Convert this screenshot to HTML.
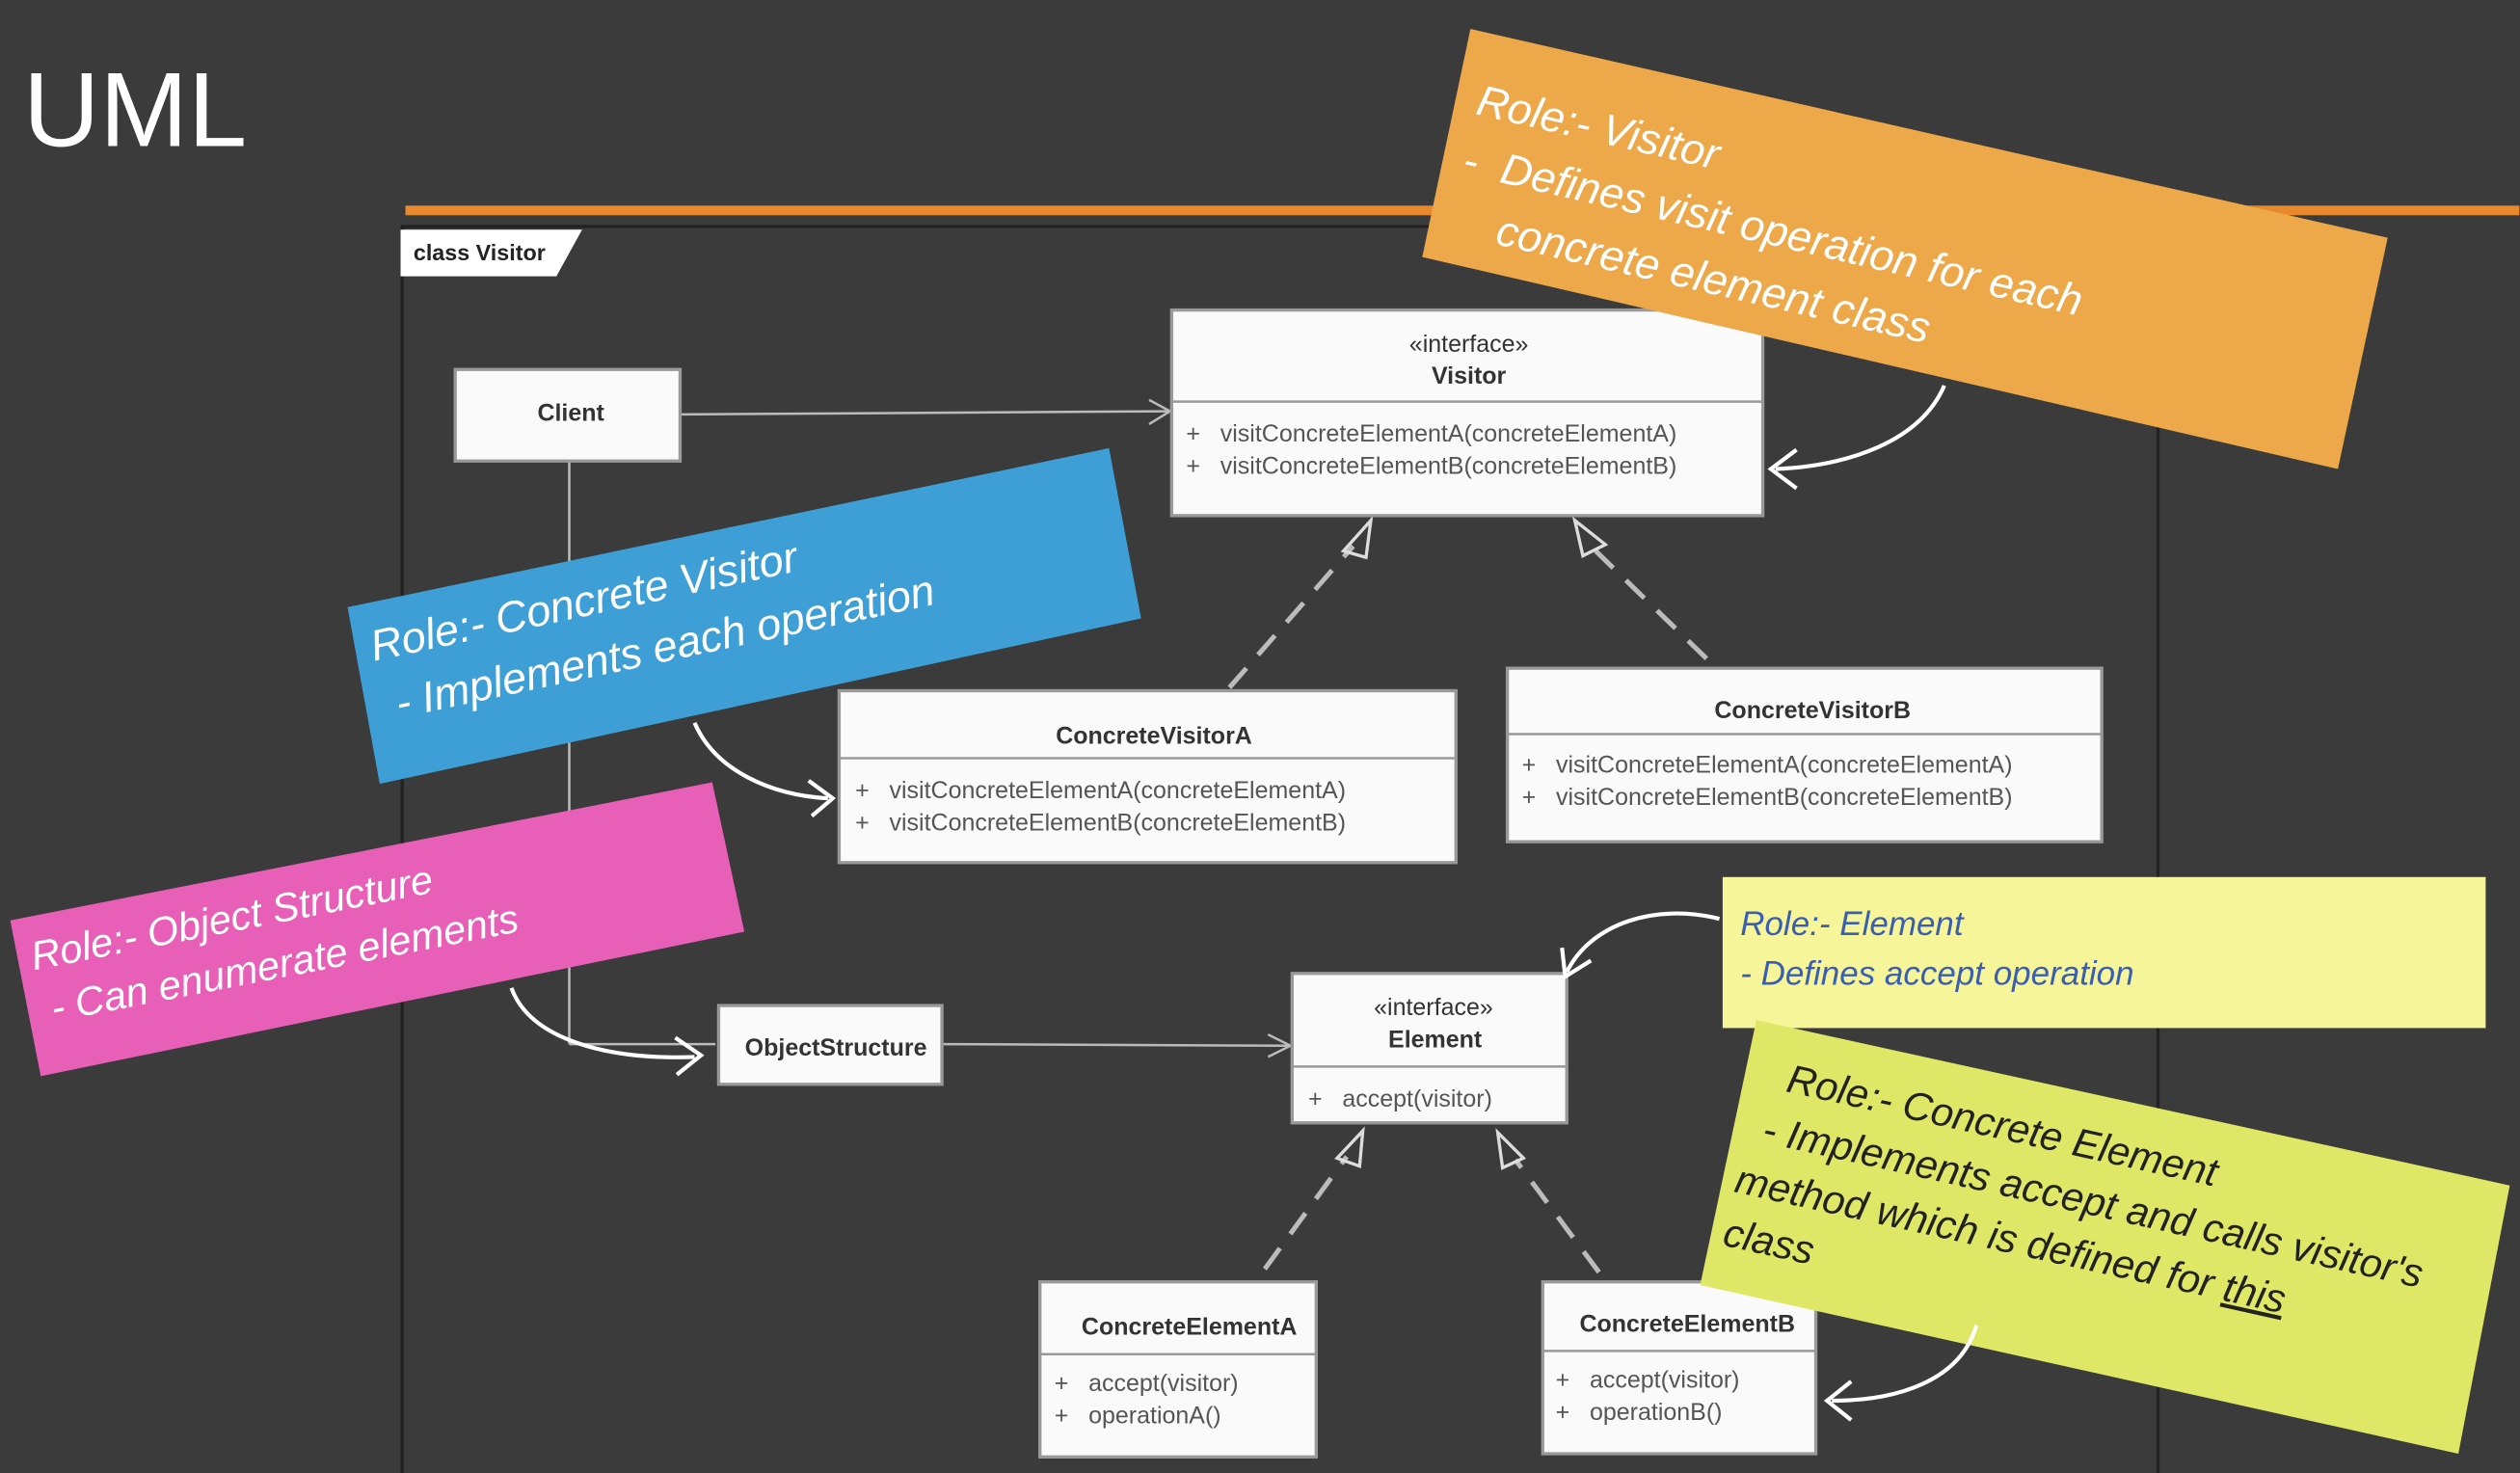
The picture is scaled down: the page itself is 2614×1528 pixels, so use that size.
<!DOCTYPE html>
<html><head><meta charset="utf-8"><style>
html,body{margin:0;padding:0;background:#3b3b3b;}
svg{display:block}
</style></head><body>
<svg width="2614" height="1528" viewBox="0 0 1568 917" xmlns="http://www.w3.org/2000/svg" font-family="Liberation Sans, DejaVu Sans, sans-serif">
<rect width="1568" height="917" fill="#3b3b3b"/>
<text x="14" y="91" font-size="66" fill="#ffffff">UML</text>
<rect x="252" y="128" width="1316" height="6" fill="#e8892e"/>
<line x1="250" y1="140" x2="250" y2="917" stroke="#222" stroke-width="2"/>
<line x1="1343" y1="140" x2="1343" y2="917" stroke="#222" stroke-width="2"/>
<line x1="250" y1="141" x2="1343" y2="141" stroke="#222" stroke-width="2"/>
<polygon points="249,143 362,143 346,172 249,172" fill="#fff"/>
<text x="257" y="162" font-size="14" font-weight="bold" fill="#222">class Visitor</text>
<g stroke="#bbb" stroke-width="1.5" fill="none">
<line x1="423" y1="258" x2="727" y2="256"/>
<polyline points="715,249 728,256 715,264"/>
<line x1="354" y1="287" x2="354" y2="650"/>
<line x1="354" y1="650" x2="445" y2="650"/>
<line x1="586" y1="650" x2="802" y2="651"/>
<polyline points="789,644 803,651 789,658"/>
</g>
<g stroke="#bbb" stroke-width="3" stroke-dasharray="16,11" fill="none">
<line x1="765" y1="428" x2="842" y2="340"/>
<line x1="1062" y1="410" x2="993" y2="343"/>
<line x1="787" y1="790" x2="838" y2="720"/>
<line x1="995" y1="792" x2="943" y2="722"/>
</g>
<g fill="none" stroke="#ddd" stroke-width="2">
<polygon points="853,324 836,343 850,347"/>
<polygon points="980,324 985,346 999,339"/>
<polygon points="848,704 832,721 846,726"/>
<polygon points="932,705 935,727 948,721"/>
</g>
<g stroke="#999" stroke-width="2" fill="#fafafa">
<rect x="283" y="230" width="140" height="57"/>
<rect x="729" y="193" width="368" height="128"/>
<rect x="522" y="430" width="384" height="107"/>
<rect x="938" y="416" width="370" height="108"/>
<rect x="447" y="626" width="139" height="49"/>
<rect x="804" y="606" width="171" height="93"/>
<rect x="647" y="798" width="172" height="109"/>
<rect x="960" y="798" width="170" height="107"/>
</g>
<g stroke="#999" stroke-width="1.5">
<line x1="729" y1="250" x2="1097" y2="250"/>
<line x1="522" y1="472" x2="906" y2="472"/>
<line x1="938" y1="457" x2="1308" y2="457"/>
<line x1="804" y1="664" x2="975" y2="664"/>
<line x1="647" y1="843" x2="819" y2="843"/>
<line x1="960" y1="841" x2="1130" y2="841"/>
</g>
<g fill="#333" font-size="15" text-anchor="middle">
<text x="355" y="262" font-weight="bold">Client</text>
<text x="914" y="219">«interface»</text>
<text x="914" y="239" font-weight="bold">Visitor</text>
<text x="718" y="463" font-weight="bold">ConcreteVisitorA</text>
<text x="1128" y="447" font-weight="bold">ConcreteVisitorB</text>
<text x="520" y="657" font-weight="bold">ObjectStructure</text>
<text x="892" y="632">«interface»</text>
<text x="893" y="652" font-weight="bold">Element</text>
<text x="740" y="831" font-weight="bold">ConcreteElementA</text>
<text x="1050" y="829" font-weight="bold">ConcreteElementB</text>
</g>
<g fill="#555" font-size="15">
<text x="738" y="275">+ &#160; visitConcreteElementA(concreteElementA)</text>
<text x="738" y="295">+ &#160; visitConcreteElementB(concreteElementB)</text>
<text x="532" y="497">+ &#160; visitConcreteElementA(concreteElementA)</text>
<text x="532" y="517">+ &#160; visitConcreteElementB(concreteElementB)</text>
<text x="947" y="481">+ &#160; visitConcreteElementA(concreteElementA)</text>
<text x="947" y="501">+ &#160; visitConcreteElementB(concreteElementB)</text>
<text x="814" y="689">+ &#160; accept(visitor)</text>
<text x="656" y="866">+ &#160; accept(visitor)</text>
<text x="656" y="886">+ &#160; operationA()</text>
<text x="968" y="864">+ &#160; accept(visitor)</text>
<text x="968" y="884">+ &#160; operationB()</text>
</g>
<polygon points="915,18 1486,148 1455,292 885,160" fill="#eda84a"/>
<g transform="rotate(13 915 60)" fill="#fff" font-size="27" font-style="italic">
<text x="920" y="70">Role:- Visitor</text>
<text x="920" y="108">- &#160;Defines visit operation for each</text>
<text x="950" y="146">concrete element class</text>
</g>
<polygon points="216,378 690,279 710,385 236,488" fill="#3d9fd6"/>
<g transform="rotate(-12 230 410)" fill="#fff" font-size="27" font-style="italic">
<text x="232" y="412">Role:- Concrete Visitor</text>
<text x="240" y="450">- Implements each operation</text>
</g>
<polygon points="6,573 443,487 463,580 25,670" fill="#e85fb8"/>
<g transform="rotate(-11 20 600)" fill="#fff" font-size="25" font-style="italic">
<text x="20" y="604">Role:- Object Structure</text>
<text x="26" y="638">- Can enumerate elements</text>
</g>
<rect x="1072" y="546" width="475" height="94" fill="#f7f59a"/>
<text x="1083" y="582" fill="#3a5fb0" font-size="21" font-style="italic">Role:- Element</text>
<text x="1083" y="613" fill="#3a5fb0" font-size="21" font-style="italic">- Defines accept operation</text>
<polygon points="1093,635 1562,738 1530,905 1058,800" fill="#dfe866"/>
<g transform="translate(15,0) rotate(12.5 1100 670)" fill="#222" font-size="25" font-style="italic">
<text x="1098" y="680">Role:- Concrete Element</text>
<text x="1090" y="714">- Implements accept and calls visitor's</text>
<text x="1080" y="748">method which is defined for <tspan text-decoration="underline">this</tspan></text>
<text x="1080" y="782">class</text>
</g>
<g fill="none" stroke="#fff" stroke-width="2.5">
<path d="M1210,240 C1195,275 1150,290 1105,292"/>
<polyline points="1118,280 1102,292 1118,304"/>
<path d="M432,450 C445,480 480,495 515,497"/>
<polyline points="503,486 518,497 505,508"/>
<path d="M318,615 C330,648 380,660 432,658"/>
<polyline points="420,646 436,657 421,669"/>
<path d="M1070,572 C1030,562 990,575 975,605"/>
<polyline points="972,590 974,608 990,598"/>
<path d="M1230,825 C1220,860 1180,872 1140,872"/>
<polyline points="1152,860 1137,872 1152,884"/>
</g>
</svg>
</body></html>
